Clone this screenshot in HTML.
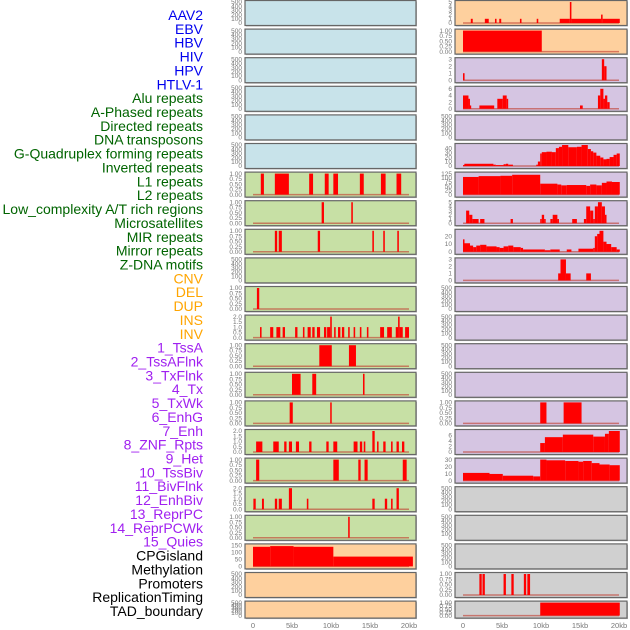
<!DOCTYPE html>
<html><head><meta charset="utf-8"><style>
html,body{margin:0;padding:0;background:#fff;width:630px;height:630px;overflow:hidden}
svg{display:block}
</style></head><body>
<svg id="chart" width="630" height="630" xmlns="http://www.w3.org/2000/svg" font-family="Liberation Sans, sans-serif"></svg>
<script>
// ---- track labels ----
const trackLabels = ["AAV2","EBV","HBV","HIV","HPV","HTLV-1","Alu repeats","A-Phased repeats","Directed repeats","DNA transposons","G-Quadruplex forming repeats","Inverted repeats","L1 repeats","L2 repeats","Low_complexity A/T rich regions","Microsatellites","MIR repeats","Mirror repeats","Z-DNA motifs","CNV","DEL","DUP","INS","INV","1_TssA","2_TssAFlnk","3_TxFlnk","4_Tx","5_TxWk","6_EnhG","7_Enh","8_ZNF_Rpts","9_Het","10_TssBiv","11_BivFlnk","12_EnhBiv","13_ReprPC","14_ReprPCWk","15_Quies","CPGisland","Methylation","Promoters","ReplicationTiming","TAD_boundary"];
const labelGroups = [0,0,0,0,0,0,1,1,1,1,1,1,1,1,1,1,1,1,1,2,2,2,2,2,3,3,3,3,3,3,3,3,3,3,3,3,3,3,3,4,4,4,4,4];
const xTickValues = [0,5,10,15,20];
const xTickLabels = ["0","5kb","10kb","15kb","20kb"];

// ---- left column track data: [startKb, endKb, value] ----
const leftL1 = [[1.0,1.4,1],[2.8,4.6,1],[7.2,7.7,1],[9.2,9.7,1],[10.3,10.9,1],[13.7,14.2,1],[16.4,17.0,1],[18.4,19.0,1]];
const leftL2 = [[8.8,9.1,1],[12.6,12.8,1]];
const leftLowComplexity = [[2.8,3.1,1],[3.3,3.7,1],[8.3,8.6,1],[15.3,15.5,1],[16.7,16.9,1],[18.5,18.7,1]];
const leftMicrosat = [];
const leftMIR = [[0.5,0.8,1]];
const leftMirror = [[0.9,1.1,1],[2.2,2.6,1],[3.0,3.5,1],[3.8,4.1,1],[5.4,5.7,1],[6.4,6.6,1],[7.0,7.4,1],[7.6,7.9,1],[8.2,8.6,1],[9.1,9.4,1],[9.5,9.9,1],[9.9,10.1,2],[10.4,10.6,1],[10.9,11.2,1],[11.4,11.7,1],[12.2,12.4,1],[12.9,13.1,1],[13.7,13.9,1],[14.6,14.8,1],[16.3,16.8,1],[17.2,17.8,1],[18.3,18.6,1],[18.6,18.8,2],[18.8,19.2,1],[19.5,20.0,1]];
const leftZDNA = [[8.5,10.1,1],[12.3,13.2,1]];
const leftCNV = [[5.0,6.1,1],[7.6,8.1,1],[14.1,14.3,1]];
const leftDEL = [[4.7,5.1,1],[9.9,10.05,1]];
const leftDUP = [[0.4,1.2,1],[2.6,3.3,1],[4.0,4.3,1],[4.6,5.0,1],[5.5,5.9,1],[7.2,7.5,1],[9.4,9.7,1],[10.3,10.8,1],[12.9,13.4,1],[13.7,14.0,1],[14.2,14.4,1],[15.3,15.6,2],[15.9,16.1,1],[16.7,17.0,1],[17.7,17.9,1],[18.4,18.7,1],[19.1,19.4,1]];
const leftINS = [[0.4,0.8,1],[10.3,11.0,1],[13.5,13.8,1],[14.3,14.7,1],[19.2,19.7,1]];
const leftINV = [[0.05,0.35,1],[1.15,1.4,1],[2.8,3.1,1],[3.3,3.7,1],[4.6,5.0,2],[6.9,7.1,1],[15.3,15.6,1],[16.9,17.2,1],[17.7,17.9,1],[18.4,18.7,2]];
const leftTssA = [[12.2,12.4,1]];
const leftCPG = [[0,2.2,140],[2.2,5.2,145],[5.2,10.3,140],[10.3,20.5,70]];

// ---- right column track data ----
const rightAAV = [[1.0,1.25,1],[2.8,3.3,1],[4.1,4.3,1],[4.65,4.9,1],[7.3,7.5,1],[9.45,9.65,1],[12.4,13.7,1],[13.7,13.9,5],[13.9,17.7,1],[17.7,17.9,2],[17.9,20.1,1]];
const rightHIV = [[0,10.1,1]];
const rightHPV = [[0,0.2,1],[17.8,18.1,3],[18.1,18.4,2]];
const rightHTLV = [[0,0.7,4],[0.7,0.85,3],[0.85,1.05,1],[2.1,4.0,1],[4.4,5.1,3],[5.1,5.6,4],[5.6,5.7,3],[15.0,15.35,1],[17.3,17.6,4],[17.6,18.0,6],[18.0,18.2,3],[18.2,18.5,4],[18.5,18.8,2]];
const rightAlu = [];
const rightAPhased = [[0,0.17,2],[0.17,3.9,5],[3.9,4.2,3],[4.2,5.2,2],[5.2,5.5,4],[5.5,5.8,5],[5.8,6.4,3],[9.4,9.6,3],[9.6,9.9,10],[9.9,10.1,28],[10.1,10.7,31],[10.7,11.4,32],[11.4,11.9,31],[11.9,12.3,40],[12.3,12.7,43],[12.7,13.5,47],[13.5,14.6,42],[14.6,15.2,43],[15.2,16.0,47],[16.0,16.4,38],[16.4,16.7,33],[16.7,17.1,30],[17.1,17.6,23],[17.6,18.0,19],[18.0,18.4,15],[18.4,18.8,16],[18.8,19.3,20],[19.3,19.7,25],[19.7,20.1,28]];
const rightDirected = [[0,2,105],[2,4.8,110],[4.8,6.3,112],[6.3,9.9,118],[9.9,12.1,65],[12.1,12.6,60],[12.6,13.3,55],[13.3,15.8,57],[15.8,16.3,52],[16.3,17.1,60],[17.1,17.8,55],[17.8,18.4,70],[18.4,19.1,78],[19.1,20.1,75]];
const rightDNA = [[0.4,0.8,3],[0.8,1.2,2],[1.2,2.0,1],[2.2,2.75,1],[6.1,6.4,1],[9.9,10.1,1],[10.1,10.4,2],[10.4,10.6,1],[11.2,11.5,1],[11.5,12.1,2],[12.1,12.3,1],[14.0,14.6,1],[15.5,15.8,1],[15.8,16.3,4],[16.3,16.7,3],[16.7,16.9,1],[16.9,17.3,4],[17.3,17.8,5],[17.8,18.2,4],[18.2,18.4,2]];
const rightGQuad = [[0,0.17,16],[0.17,0.9,11],[0.9,1.3,8],[1.3,1.7,6],[1.7,2.2,8],[2.2,3.0,9],[3.0,4.3,7],[4.3,4.7,6],[4.7,5.2,5],[5.2,5.8,7],[5.8,6.45,8],[6.45,7.4,6],[7.4,7.7,5],[7.7,10.5,3],[10.5,11.2,2],[11.2,12.4,3],[13.3,13.9,3],[14.8,16.7,4],[16.7,16.9,5],[16.9,17.2,20],[17.2,17.5,23],[17.5,18.0,27],[18.0,18.4,13],[18.4,19.0,10],[19.0,19.7,6],[19.7,20.1,3]];
const rightInverted = [[12.2,12.5,1],[12.5,13.2,3],[13.2,13.8,1],[15.8,16.4,1]];
const rightTx = [[9.9,10.7,1],[12.9,15.2,1]];
const rightEnhG = [[9.9,10.5,3.2],[10.5,12.8,5.3],[12.8,16.7,6.2],[16.7,18.2,5.5],[18.2,18.7,6.5],[18.7,20.1,7.5]];
const rightEnh = [[0,3.4,11],[3.4,5.1,9.5],[5.1,9.0,7],[9.0,9.9,6],[9.9,10.7,30],[10.7,13.1,29],[13.1,14.8,28],[14.8,15.4,27],[15.4,16.5,28],[16.5,17.5,25],[17.5,18.8,23],[18.8,20.1,22]];
const rightPromoters = [[2.1,2.4,1],[2.5,2.8,1],[5.2,5.5,1],[6.2,6.5,1],[7.8,8.1,1],[8.25,8.6,1]];
const rightTAD = [[9.9,20.1,1]];

// ---- tick label sets ----
const ticksEmpty = [0,100,200,300,400,500];
const ticksFrac = [0,0.25,0.5,0.75,1];
const ticks2 = [0,0.5,1,1.5,2];
const ticksCPG = [0,50,100,150];
const ticksAAV = [0,1,2,3,4,5];
const ticksHPV = [0,1,2,3];
const ticksHTLV = [0,2,4,6];
const ticks40 = [0,10,20,30,40];
const ticks125 = [0,25,50,75,100,125];
const ticksDNA = [0,1,2,3,4,5];
const ticks20 = [0,10,20];
const ticks30 = [0,10,20,30];

const BG = {blue:"#c8e3ea",green:"#c7e0a5",orange:"#fed09e",purple:"#d5c5e2",gray:"#d0d0d0"};
// panel definitions: [data, ticks, ymax, bg, name, fmt]
const leftPanels = [
 [[],ticksEmpty,500,"blue","aav2-left"],[[],ticksEmpty,500,"blue","ebv-left"],[[],ticksEmpty,500,"blue","hbv-left"],
 [[],ticksEmpty,500,"blue","hiv-left"],[[],ticksEmpty,500,"blue","hpv-left"],[[],ticksEmpty,500,"blue","htlv-left"],
 [leftL1,ticksFrac,1,"green","l1-track"],[leftL2,ticksFrac,1,"green","l2-track"],[leftLowComplexity,ticksFrac,1,"green","low-complexity-track"],
 [leftMicrosat,ticksEmpty,500,"green","microsatellites-track"],[leftMIR,ticksFrac,1,"green","mir-track"],[leftMirror,ticks2,2,"green","mirror-track"],
 [leftZDNA,ticksFrac,1,"green","zdna-track"],[leftCNV,ticksFrac,1,"green","cnv-track"],[leftDEL,ticksFrac,1,"green","del-track"],
 [leftDUP,ticks2,2,"green","dup-track"],[leftINS,ticksFrac,1,"green","ins-track"],[leftINV,ticks2,2,"green","inv-track"],
 [leftTssA,ticksFrac,1,"green","tssa-track"],[leftCPG,ticksCPG,150,"orange","cpg-track"],
 [[],ticksEmpty,500,"orange","methylation-track"],[[],ticksEmpty,500,"orange","promoters-left-track"]
];
const rightPanels = [
 [rightAAV,ticksAAV,5,"orange","aav2-right"],[rightHIV,ticksFrac,1,"orange","hiv-right"],[rightHPV,ticksHPV,3,"purple","hpv-right"],
 [rightHTLV,ticksHTLV,6.3,"purple","htlv-right"],[rightAlu,ticksEmpty,500,"purple","alu-right"],[rightAPhased,ticks40,47,"purple","aphased-right"],
 [rightDirected,ticks125,125,"purple","directed-right"],[rightDNA,ticksDNA,5,"purple","dna-right"],[rightGQuad,ticks20,27,"purple","gquad-right"],
 [rightInverted,ticksHPV,3,"purple","inverted-right"],[[],ticksEmpty,500,"purple","empty-right-10"],[[],ticksEmpty,500,"purple","empty-right-11"],
 [[],ticksEmpty,500,"purple","empty-right-12"],[[],ticksEmpty,500,"purple","empty-right-13"],[rightTx,ticksFrac,1,"purple","tx-right"],
 [rightEnhG,ticksHTLV,7.5,"purple","enhg-right"],[rightEnh,ticks30,30,"purple","enh-right"],[[],ticksEmpty,500,"gray","empty-right-17"],
 [[],ticksEmpty,500,"gray","empty-right-18"],[[],ticksEmpty,500,"gray","empty-right-19"],[rightPromoters,ticksFrac,1,"gray","promoters-right"],
 [rightTAD,ticksFrac,1,"gray","tad-right"]
];

const svg = document.getElementById("chart");
const NS = "http://www.w3.org/2000/svg";
function mk(tag, attrs){ const e=document.createElementNS(NS,tag); for(const k in attrs) e.setAttribute(k,attrs[k]); return e; }

// labels
const groupColors = ["#0000ee","#006400","#ffa500","#a020f0","#000000"];
trackLabels.forEach((t,i)=>{
  const el = mk("text",{x:203,y:20+i*13.86,"text-anchor":"end","font-size":"14",fill:groupColors[labelGroups[i]]});
  
  
  el.textContent = t;
  svg.appendChild(el);
});

function fmtTick(v, ticks){
  if (ticks===ticksFrac) return v.toFixed(2);
  if (ticks===ticks2) return v.toFixed(1);
  return String(v);
}

function drawColumn(panels, x0, x1, kb0px){
  const kbScale = 7.8;
  const X = kb => kb0px + kb*kbScale;
  panels.forEach((p,i)=>{
    const [data,ticks,ymax,bg,name] = p;
    const top = i*28.6 + 0.5;
    const h = (i===21) ? 17 : 25;
    const g = mk("g",{});
    
    
    svg.appendChild(g);
    g.appendChild(mk("rect",{x:x0+1,y:top+1,width:x1-x0,height:h,fill:"#bbb"}));
    const r = mk("rect",{x:x0,y:top,width:x1-x0,height:h,fill:BG[bg],stroke:"#666","stroke-width":1.2});
    
    
    g.appendChild(r);
    const base = top + h - 2.5, ytop = top + 1.5;
    const Y = v => base - Math.min(v,ymax)/ymax*(base-ytop);
    // ticks
    ticks.forEach(tv=>{
      const t = mk("text",{x:x0-3,y:Y(tv)+2.2,"text-anchor":"end","font-size":"6.5",fill:"#777"});
      
      
      t.textContent = fmtTick(tv,ticks);
      g.appendChild(t);
    });
    if (data.length){
      g.appendChild(mk("line",{x1:X(0),x2:X(20),y1:base,y2:base,stroke:"#c0392b","stroke-opacity":0.6,"stroke-width":1.5}));
    }
    data.forEach(d=>{
      const xa = X(d[0]), xb = X(d[1]);
      const b = mk("rect",{x:xa,y:Y(d[2]),width:Math.max(xb-xa,1.5),height:base-Y(d[2]),fill:"#ff0000"});
      
      
      g.appendChild(b);
    });
  });
  xTickValues.forEach((v,i)=>{
    const t = mk("text",{x:X(v),y:628,"text-anchor":"middle","font-size":"7.5",fill:"#777"});
    
    
    t.textContent = xTickLabels[i];
    svg.appendChild(t);
  });
}
drawColumn(leftPanels, 245, 416, 253);
drawColumn(rightPanels, 455, 627, 463);
</script>
</body></html>
